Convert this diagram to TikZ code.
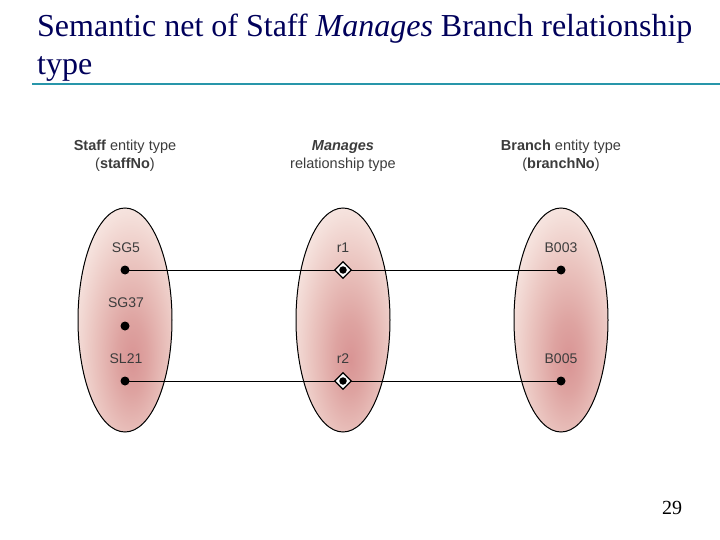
\documentclass[tikz,border=0pt]{standalone}
\usepackage{fontspec}
\setmainfont{Liberation Serif}
\setsansfont{Liberation Sans}
\usetikzlibrary{shapes.geometric}
\definecolor{titleblue}{RGB}{0,0,90}
\definecolor{ruleteal}{RGB}{40,150,170}
\definecolor{labgray}{RGB}{60,60,60}
\pgfdeclareradialshading{pinkset}{\pgfpoint{4bp}{-9bp}}{%
  rgb(0bp)=(0.85,0.58,0.58);
  rgb(8bp)=(0.87,0.64,0.63);
  rgb(20bp)=(0.92,0.77,0.75);
  rgb(30bp)=(0.96,0.88,0.86);
  rgb(38bp)=(0.99,0.95,0.94);
  rgb(100bp)=(0.99,0.95,0.94)}
\begin{document}
\begin{tikzpicture}[x=1pt,y=-1pt,
  setov/.style={ellipse,draw=black,line width=1pt,minimum width=94pt,minimum height=224pt,inner sep=0pt,
    shading=pinkset},
  hdr/.style={font=\sffamily\fontsize{14.5}{18.5}\selectfont,text=labgray,align=center,anchor=base},
  lab/.style={font=\sffamily\fontsize{14}{16}\selectfont,text=labgray,anchor=base},
  dot/.style={circle,fill=black,inner sep=0pt,minimum size=9pt},
  relmark/.style={diamond,draw=black,line width=1.3pt,fill=white,inner sep=0pt,minimum size=17pt},
  link/.style={draw=black,line width=0.9pt}]
\useasboundingbox (0,0) rectangle (720,540);
% title
\node[anchor=base west,inner sep=0pt,text=titleblue,font=\fontsize{32}{38}\selectfont] (t1) at (37,37) {Semantic net of Staff \textit{Manages} Branch relationship};
\node[anchor=base west,inner sep=0pt,text=titleblue,font=\fontsize{32}{38}\selectfont] (t2) at (37,75) {type};
\draw[ruleteal,line width=2pt] (32,84) -- (720,84);
% headers
\node[hdr] (h1) at (125,169) {\textbf{Staff} entity type\\(\textbf{staffNo})};
\node[hdr] (h2) at (343,169) {\textbf{\textit{Manages}}\\relationship type};
\node[hdr] (h3) at (561,169) {\textbf{Branch} entity type\\(\textbf{branchNo})};
% ellipses
\node[setov] (e1) at (125,320) {};
\node[setov] (e2) at (343,320) {};
\node[setov] (e3) at (561,320) {};
% labels
\node[lab] (l1) at (126,252) {SG5};
\node[lab] (l2) at (126,307) {SG37};
\node[lab] (l3) at (126,363) {SL21};
\node[lab] (l4) at (343,252) {r1};
\node[lab] (l5) at (343,363) {r2};
\node[lab] (l6) at (561,252) {B003};
\node[lab] (l7) at (561,363) {B005};
% points
\coordinate (s1) at (125,270);
\coordinate (s2) at (125,326);
\coordinate (s3) at (125,381);
\coordinate (r1) at (343,270);
\coordinate (r2) at (343,381);
\coordinate (b1) at (561,270);
\coordinate (b2) at (561,381);
\draw[link] (s1) -- (r1);
\draw[link] (r1) -- (b1);
\draw[link] (s3) -- (r2);
\draw[link] (r2) -- (b2);
\node[dot] (d1) at (s1) {};
\node[dot] (d2) at (s2) {};
\node[dot] (d3) at (s3) {};
\node[dot] (d6) at (b1) {};
\node[dot] (d7) at (b2) {};
\node[relmark] (m1) at (r1) {};
\node[relmark] (m2) at (r2) {};
\node[dot,minimum size=7.5pt] (d4) at (r1) {};
\node[dot,minimum size=7.5pt] (d5) at (r2) {};
% page number
\node[anchor=base,inner sep=0pt,font=\fontsize{20}{24}\selectfont] (pg) at (672,514) {29};
\end{tikzpicture}
\end{document}
